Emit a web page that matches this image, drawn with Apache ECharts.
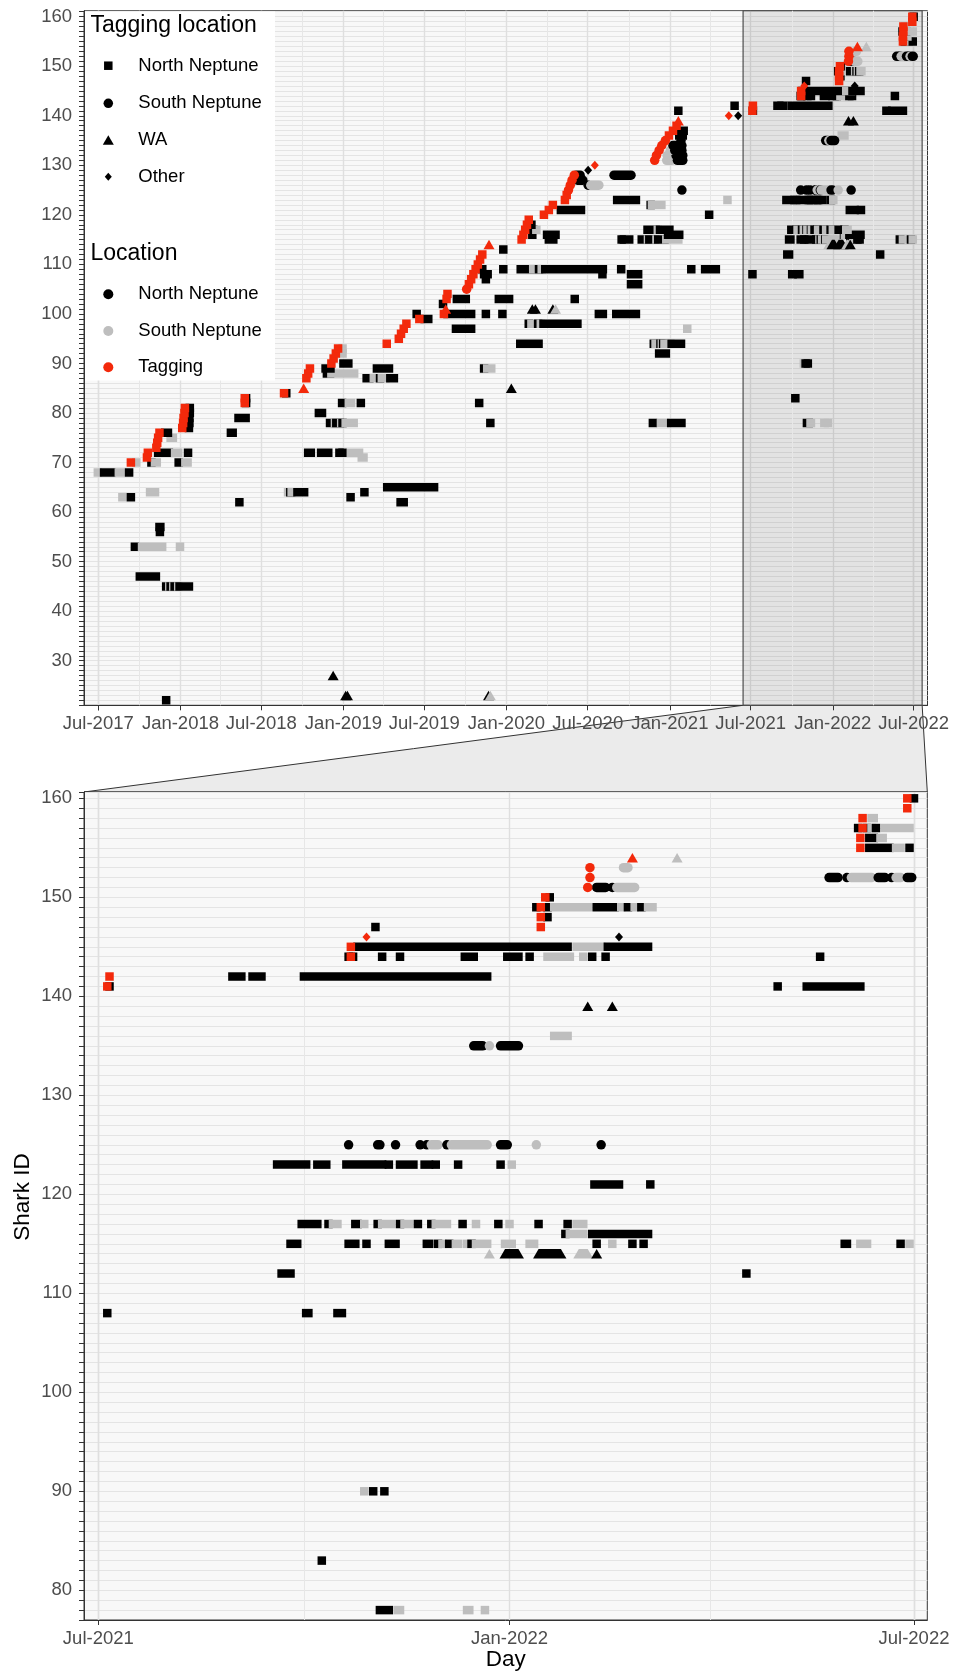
<!DOCTYPE html>
<html>
<head>
<meta charset="utf-8">
<title>Shark detections by day</title>
<script src="https://cdn.jsdelivr.net/npm/echarts@6/dist/echarts.min.js"></script>
<style>
  html, body { margin: 0; padding: 0; background: #fff; }
  #chart { width: 954px; height: 1672px; }
</style>
</head>
<body>
<div id="chart"></div>
<script>
// axis ticks
const topTickDates = ['2017-07-01', '2018-01-01', '2018-07-01', '2019-01-01', '2019-07-01', '2020-01-01',
  '2020-07-01', '2021-01-01', '2021-07-01', '2022-01-01', '2022-07-01'];
const topTickLabels = ['Jul-2017', 'Jan-2018', 'Jul-2018', 'Jan-2019', 'Jul-2019', 'Jan-2020',
  'Jul-2020', 'Jan-2021', 'Jul-2021', 'Jan-2022', 'Jul-2022'];
const topMinorGridDates = ['2017-10-01', '2018-04-01', '2018-10-01', '2019-04-01', '2019-10-01', '2020-04-01',
  '2020-10-01', '2021-04-01', '2021-10-01', '2022-04-01'];
const zoomTickDates = ['2021-07-01', '2022-01-01', '2022-07-01'];
const zoomTickLabels = ['Jul-2021', 'Jan-2022', 'Jul-2022'];
const zoomMinorGridDates = ['2021-10-01', '2022-04-01'];
const topIdLabels = [30, 40, 50, 60, 70, 80, 90, 100, 110, 120, 130, 140, 150, 160];
const zoomIdLabels = [80, 90, 100, 110, 120, 130, 140, 150, 160];
const zoomWindow = ['2021-06-14', '2022-07-20'];

const locationNames = ['North Neptune', 'South Neptune', 'Tagging'];
const taggingNames = ['North Neptune', 'South Neptune', 'WA', 'Other'];

// detections: [shark id, first day, (last day), location]  N = North Neptune, S = South Neptune, T = tagging
const northNeptuneTagged = [
  [22, '2017-11-30', 'N'],
  [45, '2017-11-30', '2017-12-04', 'N'], [45, '2017-12-07', 'S'], [45, '2017-12-10', '2017-12-13', 'N'], [45, '2017-12-16', 'S'],
  [45, '2017-12-19', '2017-12-24', 'N'], [45, '2017-12-27', 'S'], [45, '2017-12-30', '2018-01-20', 'N'],
  [47, '2017-10-02', '2017-11-07', 'N'],
  [53, '2017-09-21', 'N'], [53, '2017-10-07', '2017-11-21', 'S'], [53, '2017-12-31', 'S'],
  [56, '2017-11-16', 'N'], [57, '2017-11-15', '2017-11-17', 'N'],
  [62, '2018-05-13', 'N'], [62, '2019-05-09', '2019-05-16', 'N'],
  [63, '2017-08-24', 'S'], [63, '2017-09-12', 'N'], [63, '2019-01-17', 'N'],
  [64, '2017-10-25', '2017-11-05', 'S'], [64, '2018-08-30', 'S'], [64, '2018-09-04', 'N'], [64, '2018-09-07', 'S'],
  [64, '2018-09-20', '2018-10-05', 'N'], [64, '2019-02-17', 'N'],
  [65, '2019-04-09', '2019-07-23', 'N'],
  [68, '2017-06-30', 'S'], [68, '2017-07-14', '2017-07-30', 'N'], [68, '2017-08-16', '2017-08-21', 'S'], [68, '2017-09-08', 'N'],
  [70, '2017-09-12', 'T'], [70, '2017-09-24', 'S'], [70, '2017-10-28', 'N'], [70, '2017-11-05', '2017-11-09', 'S'],
  [70, '2017-12-28', 'N'], [70, '2018-01-12', '2018-01-17', 'S'],
  [71, '2017-10-18', 'T'], [71, '2019-02-11', '2019-02-15', 'S'],
  [72, '2017-10-20', 'T'], [72, '2017-11-12', '2017-12-06', 'N'], [72, '2017-12-20', '2017-12-27', 'S'], [72, '2018-01-18', 'N'],
  [72, '2018-10-14', '2018-10-20', 'N'], [72, '2018-11-12', '2018-11-28', 'N'], [72, '2018-12-23', 'N'], [72, '2018-12-30', 'N'],
  [72, '2019-01-18', '2019-02-05', 'S'],
  [73, '2017-11-08', 'T'], [74, '2017-11-10', 'T'],
  [75, '2017-11-12', 'T'], [75, '2017-12-10', '2017-12-15', 'S'],
  [76, '2017-11-15', 'T'], [76, '2017-11-28', '2017-12-04', 'N'], [76, '2018-04-24', '2018-04-28', 'N'],
  [77, '2018-01-05', 'T'], [77, '2018-01-20', 'N'],
  [78, '2018-01-07', 'T'], [78, '2018-01-21', 'N'], [78, '2018-12-02', '2018-12-10', 'N'], [78, '2018-12-13', 'S'],
  [78, '2018-12-16', '2018-12-24', 'N'], [78, '2018-12-27', 'S'], [78, '2018-12-30', 'N'], [78, '2019-01-06', '2019-01-24', 'S'],
  [78, '2019-11-26', 'N'], [78, '2020-11-24', 'N'], [78, '2020-12-12', '2020-12-20', 'S'], [78, '2021-01-04', '2021-01-27', 'N'],
  [78, '2021-11-04', '2021-11-08', 'N'], [78, '2021-11-12', '2021-11-13', 'S'], [78, '2021-12-13', '2021-12-14', 'S'], [78, '2021-12-21', 'S'],
  [79, '2018-01-08', 'T'], [79, '2018-01-21', 'N'], [79, '2018-05-11', '2018-05-27', 'N'],
  [80, '2018-01-10', 'T'], [80, '2018-01-22', 'N'], [80, '2018-11-07', '2018-11-14', 'N'],
  [81, '2018-01-11', 'T'], [81, '2018-01-22', 'N'],
  [82, '2018-05-25', 'T'], [82, '2018-05-28', 'N'], [82, '2018-12-29', 'N'], [82, '2019-01-13', '2019-01-18', 'S'],
  [82, '2019-02-09', 'N'], [82, '2019-11-01', 'N'],
  [83, '2018-05-25', 'T'], [83, '2018-05-28', 'N'], [83, '2021-10-09', 'N'],
  [84, '2018-08-21', 'T'], [84, '2018-08-26', 'N'],
  [87, '2018-10-10', 'T'], [87, '2019-02-22', '2019-02-28', 'N'], [87, '2019-03-10', '2019-03-20', 'S'], [87, '2019-03-24', 'N'],
  [87, '2019-03-28', '2019-04-05', 'S'], [87, '2019-04-16', '2019-04-24', 'N'],
  [88, '2018-10-14', 'T'], [88, '2018-11-25', '2018-12-02', 'N'], [88, '2018-12-05', '2019-01-25', 'S'],
  [89, '2018-10-18', 'T'], [89, '2018-11-22', '2018-12-03', 'N'], [89, '2019-03-17', '2019-04-13', 'N'], [89, '2019-11-12', 'N'],
  [89, '2019-11-19', '2019-11-28', 'S'],
  [90, '2018-12-05', 'T'], [90, '2019-01-01', '2019-01-12', 'N'], [90, '2021-10-28', 'S'], [90, '2021-11-01', 'N'], [90, '2021-11-06', 'N'],
  [91, '2018-12-10', 'T'],
  [92, '2018-12-15', 'T'], [92, '2018-12-30', 'S'], [92, '2020-12-08', '2020-12-23', 'N'],
  [93, '2018-12-20', 'T'], [93, '2018-12-30', 'S'],
  [94, '2019-04-08', 'T'], [94, '2020-02-01', '2020-03-13', 'N'], [94, '2020-11-26', 'N'], [94, '2020-11-30', '2020-12-08', 'S'],
  [94, '2020-12-11', 'N'], [94, '2020-12-14', 'S'], [94, '2020-12-17', 'N'], [94, '2020-12-20', '2021-01-02', 'S'], [94, '2021-01-05', '2021-01-26', 'N'],
  [95, '2019-05-05', 'T'], [96, '2019-05-10', 'T'],
  [97, '2019-05-16', 'T'], [97, '2019-09-10', '2019-10-14', 'N'], [97, '2021-02-09', 'S'],
  [98, '2019-05-22', 'T'], [98, '2020-02-20', 'N'], [98, '2020-02-26', '2020-03-08', 'S'], [98, '2020-03-12', 'N'], [98, '2020-03-18', 'S'],
  [98, '2020-03-24', '2020-06-08', 'N'],
  [99, '2019-06-20', 'T'], [99, '2019-07-02', '2019-07-10', 'N'],
  [100, '2019-06-14', 'N'], [100, '2019-08-14', 'T'], [100, '2019-08-22', '2019-10-14', 'N'], [100, '2019-11-16', 'N'], [100, '2019-12-23', 'N'],
  [100, '2020-07-26', '2020-08-04', 'N'], [100, '2020-09-03', '2020-10-17', 'N'],
  [102, '2019-08-12', 'N'],
  [103, '2019-08-20', 'T'], [103, '2019-09-12', '2019-10-02', 'N'], [103, '2019-12-15', '2020-01-07', 'N'], [103, '2020-06-02', 'N'],
  [104, '2019-08-22', 'T'],
  [106, '2019-10-09', 'T'], [106, '2020-10-06', '2020-10-22', 'N'],
  [107, '2019-10-14', 'T'], [107, '2019-11-16', 'N'],
  [108, '2019-10-19', 'T'], [108, '2019-11-12', '2019-11-20', 'N'], [108, '2020-08-03', 'N'], [108, '2020-10-06', '2020-10-22', 'N'],
  [108, '2021-07-05', 'N'], [108, '2021-10-02', '2021-10-03', 'N'], [108, '2021-10-16', '2021-10-18', 'N'],
  [109, '2019-10-24', 'T'], [109, '2019-11-08', 'N'], [109, '2019-12-25', 'N'], [109, '2020-02-02', '2020-02-24', 'N'],
  [109, '2020-03-01', '2020-03-10', 'S'], [109, '2020-03-14', 'N'], [109, '2020-03-20', 'S'], [109, '2020-03-28', '2020-08-04', 'N'],
  [109, '2020-09-14', 'N'], [109, '2021-02-18', 'N'], [109, '2021-03-21', '2021-04-14', 'N'],
  [110, '2019-10-29', 'T'], [111, '2019-11-03', 'T'],
  [112, '2019-11-08', 'T'], [112, '2021-09-21', '2021-09-25', 'N'], [112, '2022-04-17', 'N'],
  [113, '2019-12-25', 'N'],
  [115, '2020-02-04', 'T'], [115, '2020-04-05', '2020-04-15', 'N'], [115, '2020-09-15', 'N'], [115, '2020-09-20', '2020-10-02', 'N'],
  [115, '2020-10-30', '2020-11-10', 'N'], [115, '2020-11-13', 'S'], [115, '2020-11-16', '2020-11-28', 'N'], [115, '2020-12-02', 'S'],
  [115, '2020-12-06', '2020-12-20', 'N'], [115, '2020-12-24', '2021-01-20', 'S'],
  [115, '2021-09-25', '2021-09-28', 'N'], [115, '2021-10-21', '2021-10-24', 'N'], [115, '2021-10-29', 'N'], [115, '2021-11-08', '2021-11-11', 'N'],
  [115, '2021-11-25', '2021-11-26', 'N'], [115, '2021-11-30', 'N'], [115, '2021-12-02', 'S'], [115, '2021-12-05', 'N'],
  [115, '2021-12-08', '2021-12-09', 'S'], [115, '2021-12-13', 'S'], [115, '2021-12-15', 'N'], [115, '2021-12-17', '2021-12-22', 'S'],
  [115, '2021-12-30', '2022-01-02', 'S'], [115, '2022-01-10', '2022-01-12', 'S'], [115, '2022-02-09', 'N'], [115, '2022-02-16', 'S'],
  [115, '2022-02-25', 'N'], [115, '2022-03-02', 'N'], [115, '2022-05-31', '2022-06-01', 'N'], [115, '2022-06-07', '2022-06-10', 'S'],
  [115, '2022-06-25', 'N'], [115, '2022-06-29', 'S'],
  [116, '2020-02-08', 'T'], [116, '2020-02-28', 'N'], [116, '2020-04-01', '2020-04-20', 'N'], [116, '2020-12-28', '2021-01-22', 'N'],
  [116, '2022-01-26', 'N'], [116, '2022-01-28', '2022-02-03', 'S'], [116, '2022-02-07', '2022-03-04', 'N'],
  [117, '2020-02-12', 'T'], [117, '2020-03-01', 'N'], [117, '2020-03-08', 'S'], [117, '2020-11-12', '2020-11-30', 'N'], [117, '2020-12-05', 'S'],
  [117, '2020-12-10', '2020-12-31', 'N'],
  [117, '2021-09-30', '2021-10-07', 'N'], [117, '2021-10-12', 'N'], [117, '2021-10-14', '2021-10-16', 'S'], [117, '2021-10-24', '2021-10-25', 'N'],
  [117, '2021-10-28', 'S'], [117, '2021-11-03', 'N'], [117, '2021-11-05', '2021-11-09', 'S'], [117, '2021-11-13', 'N'],
  [117, '2021-11-15', '2021-11-17', 'S'], [117, '2021-11-21', 'N'], [117, '2021-11-27', 'N'], [117, '2021-11-29', '2021-12-04', 'S'],
  [117, '2021-12-11', 'N'], [117, '2021-12-17', 'S'], [117, '2021-12-27', 'N'], [117, '2022-01-01', 'S'], [117, '2022-01-14', 'N'],
  [117, '2022-01-27', 'N'], [117, '2022-01-31', '2022-02-03', 'S'],
  [118, '2020-02-16', 'T'], [118, '2020-02-26', 'N'],
  [119, '2020-02-20', 'T'],
  [120, '2020-03-25', 'T'], [120, '2021-03-30', 'N'],
  [121, '2020-04-05', 'T'], [121, '2020-05-02', '2020-06-16', 'N'], [121, '2022-02-08', '2022-02-19', 'N'], [121, '2022-03-05', 'N'],
  [122, '2020-04-14', 'T'], [122, '2020-11-19', 'N'], [122, '2020-11-22', '2020-12-13', 'S'],
  [123, '2020-05-11', 'T'], [123, '2020-09-05', '2020-10-17', 'N'], [123, '2021-05-10', 'S'],
  [123, '2021-09-19', '2021-10-02', 'N'], [123, '2021-10-07', '2021-10-11', 'N'], [123, '2021-10-20', '2021-11-05', 'N'], [123, '2021-11-08', 'N'],
  [123, '2021-11-13', '2021-11-19', 'N'], [123, '2021-11-24', '2021-11-26', 'N'], [123, '2021-11-29', 'N'], [123, '2021-12-09', 'N'],
  [123, '2021-12-28', 'N'], [123, '2022-01-02', 'S'],
  [124, '2020-05-15', 'T'],
  [136, '2020-12-30', 'T'], [136, '2021-01-22', '2021-01-30', 'N'], [136, '2022-01-21', '2022-01-27', 'S'],
  [137, '2021-01-08', 'T'], [137, '2021-01-24', '2021-02-01', 'N'],
  [138, '2021-01-16', 'T'],
  [141, '2021-01-20', 'N'], [141, '2021-07-05', 'T'], [141, '2021-07-06', 'N'], [141, '2022-05-01', 'N'], [141, '2022-05-14', '2022-06-07', 'N'],
  [142, '2021-05-26', 'N'], [142, '2021-07-06', 'T'], [142, '2021-08-30', '2021-09-03', 'N'], [142, '2021-09-08', '2021-09-12', 'N'],
  [142, '2021-10-01', '2021-12-22', 'N'],
  [144, '2021-10-21', 'N'], [144, '2021-10-22', 'T'], [144, '2021-10-23', 'N'], [144, '2021-11-05', 'N'], [144, '2021-11-13', 'N'],
  [144, '2021-12-12', '2021-12-16', 'N'], [144, '2021-12-31', '2022-01-05', 'N'], [144, '2022-01-10', 'N'], [144, '2022-01-18', '2022-01-28', 'S'],
  [144, '2022-02-03', 'S'], [144, '2022-02-07', 'N'], [144, '2022-02-13', 'N'], [144, '2022-05-20', 'N'],
  [145, '2021-10-22', 'T'], [145, '2021-10-25', '2022-01-27', 'N'], [145, '2022-01-31', '2022-02-11', 'S'], [145, '2022-02-14', '2022-03-04', 'N'],
  [147, '2021-11-02', 'N'], [147, '2022-01-15', 'T'],
  [148, '2022-01-15', 'T'], [148, '2022-01-18', 'N'],
  [149, '2022-01-13', 'N'], [149, '2022-01-15', 'T'], [149, '2022-01-18', 'N'], [149, '2022-01-21', '2022-02-05', 'S'],
  [149, '2022-02-09', '2022-02-17', 'N'], [149, '2022-02-20', 'S'], [149, '2022-02-23', 'N'], [149, '2022-02-26', 'S'], [149, '2022-03-01', 'N'],
  [149, '2022-03-04', '2022-03-06', 'S'],
  [150, '2022-01-17', 'T'], [150, '2022-01-19', 'N'],
  [155, '2022-06-07', 'T'], [155, '2022-06-11', '2022-06-20', 'N'], [155, '2022-06-23', '2022-06-25', 'S'], [155, '2022-06-29', 'N'],
  [156, '2022-06-07', 'T'], [156, '2022-06-11', '2022-06-13', 'N'], [156, '2022-06-16', '2022-06-17', 'S'],
  [157, '2022-06-06', 'N'], [157, '2022-06-08', 'T'], [157, '2022-06-10', 'N'], [157, '2022-06-12', 'S'], [157, '2022-06-14', 'N'],
  [157, '2022-06-18', '2022-06-29', 'S'],
  [158, '2022-06-08', 'T'], [158, '2022-06-12', '2022-06-13', 'S'],
  [159, '2022-06-28', 'T'],
  [160, '2022-06-28', 'T'], [160, '2022-07-01', 'N']
];

const southNeptuneTagged = [
  [105, '2019-10-04', 'T'],
  [125, '2020-05-19', 'T'], [125, '2021-01-28', 'N'], [125, '2021-10-21', 'N'], [125, '2021-11-03', '2021-11-04', 'N'], [125, '2021-11-11', 'N'],
  [125, '2021-11-22', 'N'], [125, '2021-11-25', 'N'], [125, '2021-11-27', '2021-11-30', 'S'], [125, '2021-12-04', 'N'],
  [125, '2021-12-06', '2021-12-22', 'S'], [125, '2021-12-28', '2021-12-31', 'N'], [125, '2022-01-13', 'S'], [125, '2022-02-11', 'N'],
  [126, '2020-05-23', 'T'], [126, '2020-07-02', 'N'], [126, '2020-07-08', '2020-07-26', 'S'],
  [127, '2020-05-27', 'T'], [127, '2020-06-08', '2020-06-20', 'N'],
  [128, '2020-06-01', 'T'], [128, '2020-06-06', '2020-06-14', 'N'], [128, '2020-08-29', '2020-10-06', 'N'],
  [131, '2020-11-28', 'T'], [131, '2020-12-25', '2021-01-05', 'S'], [131, '2021-01-18', '2021-01-30', 'N'],
  [132, '2020-12-02', 'T'], [132, '2020-12-26', 'S'], [132, '2021-01-15', '2021-01-30', 'N'],
  [133, '2020-12-08', 'T'], [133, '2021-01-02', 'S'], [133, '2021-01-12', '2021-01-28', 'N'],
  [134, '2020-12-14', 'T'], [134, '2021-01-08', '2021-01-28', 'N'],
  [135, '2020-12-22', 'T'], [135, '2021-01-26', 'N'], [135, '2021-12-16', '2021-12-20', 'N'], [135, '2021-12-23', 'S'],
  [135, '2021-12-28', '2022-01-05', 'N'],
  [151, '2022-02-05', 'T'], [151, '2022-02-09', '2022-02-13', 'N'], [151, '2022-02-16', 'N'], [151, '2022-02-18', '2022-02-26', 'S'],
  [152, '2022-02-06', 'T'], [152, '2022-05-24', '2022-05-28', 'N'], [152, '2022-06-01', 'N'], [152, '2022-06-03', '2022-06-12', 'S'],
  [152, '2022-06-15', '2022-06-18', 'N'], [152, '2022-06-21', 'N'], [152, '2022-06-23', '2022-06-25', 'S'], [152, '2022-06-28', '2022-06-30', 'N'],
  [153, '2022-02-06', 'T'], [153, '2022-02-21', '2022-02-23', 'S']
];

const waTagged = [
  [23, '2019-01-06', 'N'], [23, '2019-01-10', 'N'], [23, '2019-11-22', 'N'], [23, '2019-11-26', 'S'],
  [27, '2018-12-09', 'N'],
  [85, '2018-10-04', 'T'], [85, '2020-01-12', 'N'],
  [101, '2019-08-18', 'T'], [101, '2020-02-28', 'N'], [101, '2020-03-06', 'N'], [101, '2020-04-14', 'N'], [101, '2020-04-20', 'S'],
  [114, '2019-11-23', 'T'], [114, '2021-12-23', 'S'], [114, '2021-12-30', '2022-01-05', 'N'], [114, '2022-01-14', '2022-01-24', 'N'],
  [114, '2022-02-01', '2022-02-05', 'S'], [114, '2022-02-09', 'N'],
  [139, '2021-01-20', 'T'], [139, '2022-02-05', 'N'], [139, '2022-02-16', 'N'],
  [154, '2022-02-25', 'T'], [154, '2022-03-17', 'S']
];

const otherTagged = [
  [129, '2020-07-02', 'N'],
  [130, '2020-07-17', 'T'],
  [140, '2021-05-13', 'T'], [140, '2021-06-03', 'N'],
  [146, '2021-10-29', 'T'], [146, '2022-02-19', 'N']
];

const FONT = '"Liberation Sans", Arial, Helvetica, sans-serif';
const LOCATION_COLORS = ['#000000', '#bebebe', '#f3290b'];
const LOC_INDEX = { N: 0, S: 1, T: 2 };
const SQ = 8.5, CI = 9.5, TW = 11, TH = 9.5, DW = 8, DH = 9;

const TOP = { left: 84, top: 10.75, width: 843.5, height: 694.55 };
const ZOOM = { left: 84, top: 792, width: 843.3, height: 828 };

const day = s => Date.parse(s + 'T00:00:00Z');

function toItems(runs, shape) {
  return runs.map(r => {
    const last = r.length === 4 ? r[2] : r[1];
    return [r[0], day(r[1]), day(last), LOC_INDEX[r[r.length - 1]], shape];
  });
}

// tagging points go on top, like the original
const allRuns = [].concat(
  toItems(northNeptuneTagged, 0),
  toItems(southNeptuneTagged, 1),
  toItems(waTagged, 2),
  toItems(otherTagged, 3)
);
const detections = allRuns.filter(d => d[3] !== 2).concat(allRuns.filter(d => d[3] === 2));

function renderRun(params, api) {
  const id = api.value(0);
  const a = api.coord([api.value(1), id]);
  const b = api.coord([api.value(2), id]);
  const y = a[1];
  const fill = LOCATION_COLORS[api.value(3)];
  const shape = api.value(4);
  if (shape === 0) {
    return { type: 'rect', shape: { x: a[0] - SQ / 2, y: y - SQ / 2, width: b[0] - a[0] + SQ, height: SQ }, style: { fill } };
  }
  if (shape === 1) {
    return { type: 'rect', shape: { x: a[0] - CI / 2, y: y - CI / 2, width: b[0] - a[0] + CI, height: CI, r: CI / 2 }, style: { fill } };
  }
  if (shape === 2) {
    return {
      type: 'polygon',
      shape: { points: [[a[0] - TW / 2, y + TH / 2], [a[0], y - TH / 2], [b[0], y - TH / 2], [b[0] + TW / 2, y + TH / 2]] },
      style: { fill }
    };
  }
  return {
    type: 'polygon',
    shape: { points: [[a[0] - DW / 2, y], [a[0], y - DH / 2], [b[0], y - DH / 2], [b[0] + DW / 2, y], [b[0], y + DH / 2], [a[0], y + DH / 2]] },
    style: { fill }
  };
}

function dateLabeler(dates, labels) {
  const lookup = new Map(dates.map((d, i) => [day(d), labels[i]]));
  return v => lookup.get(v) || '';
}

function timeAxis(gridIndex, min, max, dates, labels) {
  // tick marks and major grid lines only at the labelled half years
  const quarter = 180 * 86400000;
  return {
    type: 'time',
    gridIndex,
    min: Date.parse(min),
    max: Date.parse(max),
    minInterval: quarter,
    maxInterval: quarter,
    axisLine: { show: true, onZero: false, lineStyle: { color: '#333', width: 1 } },
    axisTick: { show: true, length: 5, customValues: dates.map(day), lineStyle: { color: '#333', width: 1 } },
    axisLabel: { formatter: dateLabeler(dates, labels), color: '#4d4d4d', fontSize: 18.5, fontFamily: FONT, margin: 9 },
    splitLine: { show: true, lineStyle: { color: '#dfdfdf', width: 1.4 } },
    minorSplitLine: { show: false }
  };
}

function idAxis(gridIndex, min, max, labels) {
  return {
    type: 'value',
    gridIndex,
    min,
    max,
    interval: 1,
    axisLine: { show: true, onZero: false, lineStyle: { color: '#333', width: 1 } },
    axisTick: { show: true, length: 5, lineStyle: { color: '#333', width: 1 } },
    axisLabel: {
      formatter: v => (labels.indexOf(v) >= 0 ? String(v) : ''),
      color: '#4d4d4d', fontSize: 18.5, fontFamily: FONT, margin: 12
    },
    splitLine: { show: true, lineStyle: { color: '#e4e4e4', width: 1.2 } }
  };
}

// quarter grid lines (Apr / Oct) drawn as plain mark lines, kept under the detections
function minorGrid(dates) {
  return {
    z: 1,
    silent: true,
    symbol: ['none', 'none'],
    label: { show: false },
    lineStyle: { color: '#e7e7e7', width: 1, type: 'solid' },
    emphasis: { disabled: true },
    data: dates.map(d => ({ xAxis: day(d) }))
  };
}

function legendGraphic() {
  const sx = 108.3, tx = 138.3, z = 100;
  const itemText = (y, text) => ({ type: 'text', z, style: { x: tx, y, text, fontSize: 18.5, fontFamily: FONT, fill: '#000', verticalAlign: 'middle' } });
  const titleText = (y, text) => ({ type: 'text', z, style: { x: 90.5, y, text, fontSize: 23, fontFamily: FONT, fill: '#000', verticalAlign: 'middle' } });
  const ys = [65.7, 103.3, 140, 176.7];
  const locYs = [294.3, 331, 367.3];
  return {
    id: 'legend', type: 'group', z,
    children: [
      { type: 'rect', z: z - 1, shape: { x: 85, y: 11.5, width: 190, height: 369 }, style: { fill: '#ffffff' } },
      titleText(26, 'Tagging location'),
      { type: 'rect', z, shape: { x: sx - 4.25, y: ys[0] - 4.25, width: 8.5, height: 8.5 }, style: { fill: '#000' } },
      { type: 'circle', z, shape: { cx: sx, cy: ys[1], r: 4.75 }, style: { fill: '#000' } },
      { type: 'polygon', z, shape: { points: [[sx - 5.5, ys[2] + 4.75], [sx, ys[2] - 4.75], [sx + 5.5, ys[2] + 4.75]] }, style: { fill: '#000' } },
      { type: 'polygon', z, shape: { points: [[sx - 3.5, ys[3]], [sx, ys[3] - 4], [sx + 3.5, ys[3]], [sx, ys[3] + 4]] }, style: { fill: '#000' } },
      ...taggingNames.map((n, i) => itemText(ys[i], n)),
      titleText(253.3, 'Location'),
      ...locationNames.map((n, i) => ({ type: 'circle', z, shape: { cx: sx, cy: locYs[i], r: 5 }, style: { fill: LOCATION_COLORS[i] } })),
      ...locationNames.map((n, i) => itemText(locYs[i], n))
    ]
  };
}

const chart = echarts.init(document.getElementById('chart'), null, { renderer: 'canvas' });

const option = {
  animation: false,
  useUTC: true,
  backgroundColor: '#ffffff',
  grid: [
    Object.assign({ show: true, backgroundColor: '#f8f8f8', borderColor: '#333', borderWidth: 1, containLabel: false, outerBoundsMode: 'none' }, TOP),
    Object.assign({ show: true, backgroundColor: '#f8f8f8', borderColor: '#333', borderWidth: 1, containLabel: false, outerBoundsMode: 'none' }, ZOOM)
  ],
  xAxis: [
    timeAxis(0, '2017-05-30T00:00:00Z', '2022-08-01T00:00:00Z', topTickDates, topTickLabels),
    timeAxis(1, '2021-06-24T14:00:00Z', '2022-07-06T23:00:00Z', zoomTickDates, zoomTickLabels)
  ],
  yAxis: [
    idAxis(0, 21, 161.2, topIdLabels),
    idAxis(1, 77, 160.64, zoomIdLabels)
  ],
  series: [
    {
      type: 'line', xAxisIndex: 0, yAxisIndex: 0, data: [], silent: true, z: 1,
      markLine: minorGrid(topMinorGridDates),
      markArea: {
        z: 1,
        silent: true,
        itemStyle: { color: 'rgba(0,0,0,0.085)', borderColor: '#4d4d4d', borderWidth: 1.2 },
        data: [[{ xAxis: day(zoomWindow[0]) }, { xAxis: day(zoomWindow[1]) }]]
      }
    },
    {
      type: 'line', xAxisIndex: 1, yAxisIndex: 1, data: [], silent: true, z: 1,
      markLine: minorGrid(zoomMinorGridDates)
    },
    {
      type: 'custom', xAxisIndex: 0, yAxisIndex: 0, renderItem: renderRun, data: detections,
      clip: true, silent: true, z: 3, encode: { x: [1, 2], y: 0 }
    },
    {
      type: 'custom', xAxisIndex: 1, yAxisIndex: 1, renderItem: renderRun, data: detections,
      clip: true, silent: true, z: 3, encode: { x: [1, 2], y: 0 }
    }
  ],
  graphic: [
    legendGraphic(),
    { id: 'shark-id', type: 'text', x: 22.5, y: 1197, rotation: Math.PI / 2,
      style: { text: 'Shark ID', fontSize: 22.5, fontFamily: FONT, fill: '#000', align: 'center', verticalAlign: 'middle' } },
    { id: 'day', type: 'text', x: ZOOM.left + ZOOM.width / 2, y: 1660,
      style: { text: 'Day', fontSize: 22.5, fontFamily: FONT, fill: '#000', align: 'center', verticalAlign: 'middle' } }
  ]
};

chart.setOption(option);

// connector between the highlighted window and the zoomed panel
const xa = chart.convertToPixel({ xAxisIndex: 0 }, day(zoomWindow[0]));
const xb = chart.convertToPixel({ xAxisIndex: 0 }, day(zoomWindow[1]));
const topBottom = TOP.top + TOP.height;
chart.setOption({
  graphic: [{
    id: 'zoom-link', type: 'polygon', z: -10, silent: true,
    shape: { points: [[xa, topBottom], [xb, topBottom], [ZOOM.left + ZOOM.width, ZOOM.top], [ZOOM.left, ZOOM.top]] },
    style: { fill: '#ebebeb', stroke: '#333', lineWidth: 1 }
  }]
});
</script>
</body>
</html>
